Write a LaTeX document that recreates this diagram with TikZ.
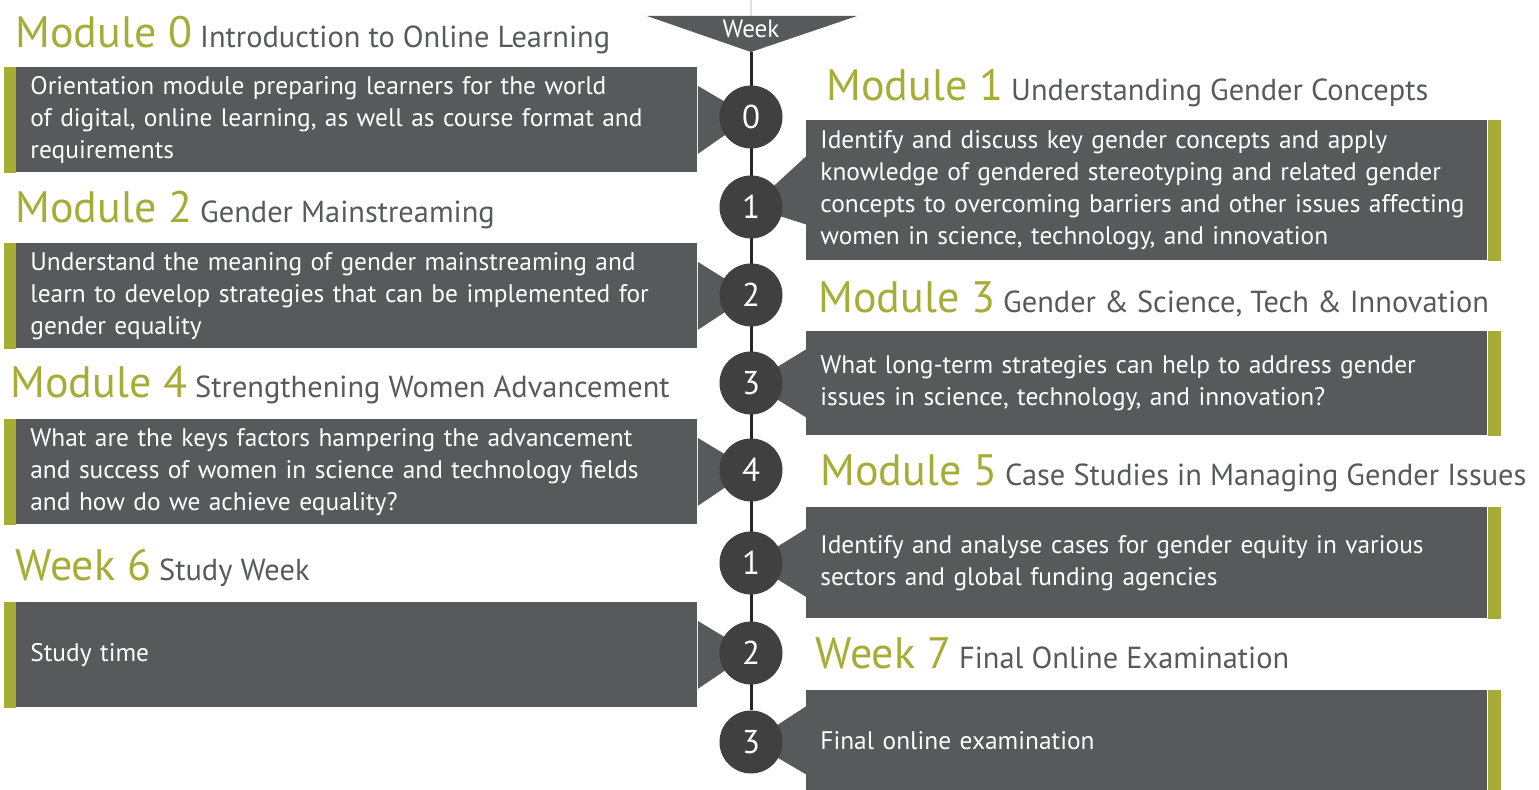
\documentclass[tikz,border=0pt]{standalone}
\usepackage{fontspec}
\setmainfont{PT Sans}
\usepackage{tikz}
\usetikzlibrary{calc,backgrounds}
\definecolor{modgreen}{HTML}{A5AD36}
\definecolor{boxgrey}{HTML}{58595B}
\definecolor{dotgrey}{HTML}{404041}
\definecolor{subgrey}{HTML}{58595B}
\newcommand{\modtitle}[2]{{\color{modgreen}\fontsize{22}{22}\selectfont #1}{\color{subgrey}\fontsize{15.2}{15.2}\selectfont\ #2}}
\tikzset{
    infobox/.style={
           rectangle,
           fill=boxgrey,
           inner xsep=7pt,
           inner ysep=0pt,
           text width=326.5pt,
           align=left,
           text=white,
           font=\fontsize{12.7}{16}\selectfont,
           },
}
\tikzset{
    lbox/.style={
           infobox,
           anchor=north west,
           },
}
\tikzset{
    rbox/.style={
           infobox,
           anchor=north west,
           },
}
\tikzset{
    weekdot/.style={
           circle,
           fill=dotgrey,
           minimum size=31.5pt,
           inner sep=0pt,
           text=white,
           font=\fontsize{16.5}{16.5}\selectfont,
           },
}
\tikzset{
    title/.style={
           anchor=base west,
           inner sep=0pt,
           },
}

\begin{document}
\begin{tikzpicture}[x=0.5pt,y=-0.5pt]
\useasboundingbox (0,0) rectangle (1539,790);
% week marker
\coordinate (Top) at (751,0);
\coordinate (WkL) at (647,16);
\coordinate (WkR) at (857,16);
\coordinate (WkT) at (751,52);
\fill[boxgrey] (WkL) -- (WkR) -- (WkT) -- cycle;
\node[text=white,font=\fontsize{12.5}{12.5}\selectfont](week) at (751,29){Week};
% titles
\node[title](T0) at (15,48){\modtitle{Module 0}{Introduction to Online Learning}};
\node[title](T1) at (826,101){\modtitle{Module 1}{Understanding Gender Concepts}};
\node[title](T2) at (15,223){\modtitle{Module 2}{Gender Mainstreaming}};
\node[title](T3) at (818,313){\modtitle{Module 3}{Gender \& Science, Tech \& Innovation}};
\node[title](T4) at (10,398){\modtitle{Module 4}{Strengthening Women Advancement}};
\node[title](T5) at (820,486){\modtitle{Module 5}{Case Studies in Managing Gender Issues}};
\node[title](T6) at (15,581){\modtitle{Week 6}{Study Week}};
\node[title](T7) at (815,669){\modtitle{Week 7}{Final Online Examination}};
% boxes
\node[lbox,minimum height=52.5pt](L0) at (16,67){Orientation module preparing learners for the world\\of digital, online learning, as well as course format and\\requirements};
\node[rbox,minimum height=70pt](R1) at (806,120){Identify and discuss key gender concepts and apply\\knowledge of gendered stereotyping and related gender\\concepts to overcoming barriers and other issues affecting\\women in science, technology, and innovation};
\node[lbox,minimum height=52.5pt](L2) at (16,243){Understand the meaning of gender mainstreaming and\\learn to develop strategies that can be implemented for\\gender equality};
\node[rbox,minimum height=52pt](R3) at (806,331){What long-term strategies can help to address gender\\issues in science, technology, and innovation?};
\node[lbox,minimum height=52.5pt](L4) at (16,419){What are the keys factors hampering the advancement\\and success of women in science and technology fields\\and how do we achieve equality?};
\node[rbox,minimum height=55.5pt](R5) at (806,507){Identify and analyse cases for gender equity in various\\sectors and global funding agencies};
\node[lbox,minimum height=52.5pt](L6) at (16,602){Study time};
\node[rbox,minimum height=50pt](R7) at (806,690){Final online examination};
% week dots
\node[weekdot](C0) at (751,117){0};
\node[weekdot](C1) at (751,207){1};
\node[weekdot](C2) at (751,295){2};
\node[weekdot](C3) at (751,383){3};
\node[weekdot](C4) at (751,470){4};
\node[weekdot](C5) at (751,563){1};
\node[weekdot](C6) at (751,653){2};
\node[weekdot](C7) at (751,742){3};
% accents
\foreach \b/\s/\w in {L0/west/-12,L2/west/-12,L4/west/-12,L6/west/-12,R1/east/13,R3/east/13,R5/east/13,R7/east/13}
    \fill[modgreen] (\b.north \s) rectangle ($(\b.south \s)+(\w,0)$);
\begin{scope}[on background layer]
\path (Top) edge[-,black!12,line width=1pt] (WkT);
\path (WkT) edge[-,black!85,line width=1.5pt] (C7);
\foreach \b/\a/\c in {L0/east/C0,R1/west/C1,L2/east/C2,R3/west/C3,L4/east/C4,R5/west/C5,L6/east/C6,R7/west/C7}
    \fill[boxgrey] ($(\b.\a)+(0,-34)$) -- ($(\b.\a)+(0,34)$) -- (\c.center) -- cycle;
\end{scope}
\end{tikzpicture}
\end{document}
